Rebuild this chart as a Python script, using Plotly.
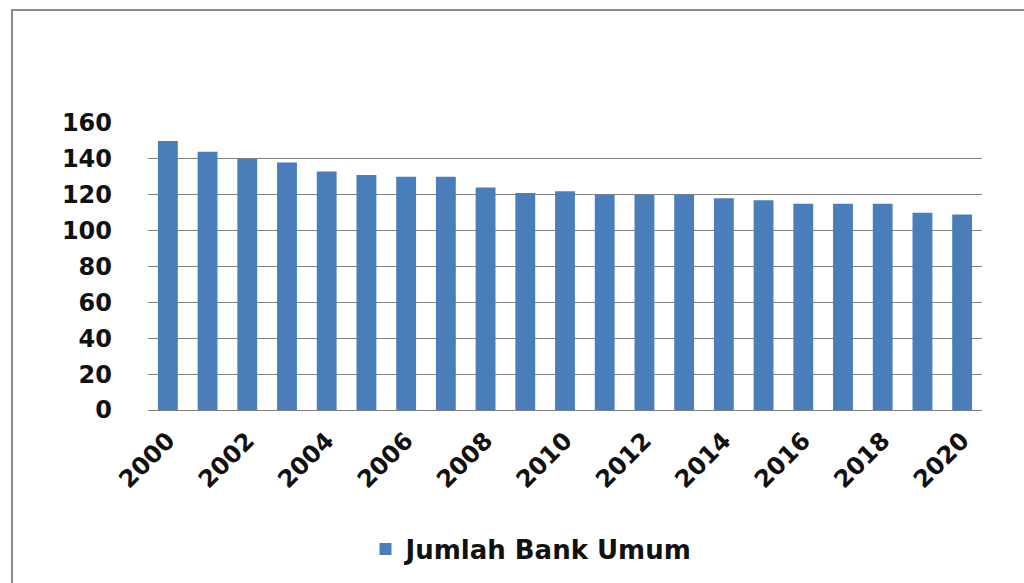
import plotly.graph_objects as go

years = list(range(2000, 2021))
bank_counts = [150, 144, 140, 138, 133, 131, 130, 130, 124, 121, 122,
               120, 120, 120, 118, 117, 115, 115, 115, 110, 109]
x_tick_years = list(range(2000, 2021, 2))
y_tick_values = [0, 20, 40, 60, 80, 100, 120, 140, 160]
series_name = "Jumlah Bank Umum"

W, H = 1024, 583
L, R, T, B = 148, 42, 123, 173
pw, ph = W - L - R, H - T - B

def px_x(p):
    return (p - L) / pw

def px_y(p):
    return (H - B - p) / ph

font_main = "DejaVu Sans"

fig = go.Figure()
fig.add_trace(go.Bar(
    x=years, y=bank_counts, name=series_name,
    marker=dict(color="#4A7EBB", line=dict(width=0)),
    showlegend=True,
))

fig.update_layout(
    width=W, height=H,
    margin=dict(l=L, r=R, t=T, b=B, autoexpand=False),
    paper_bgcolor="white", plot_bgcolor="white",
    bargap=0.5,
    showlegend=True,
    legend=dict(
        orientation="h", x=px_x(532), xanchor="center",
        y=px_y(549), yanchor="middle",
        font=dict(family=font_main, size=26, color="#111111", weight="bold"),
        itemwidth=30,
    ),
    xaxis=dict(
        range=[1999.5, 2020.5], tickmode="array", tickvals=x_tick_years,
        ticktext=[str(v) for v in x_tick_years],
        tickangle=-45, showgrid=False, zeroline=False,
        showline=False, ticks="outside", ticklen=6, tickcolor="rgba(0,0,0,0)",
        tickfont=dict(family=font_main, size=24, color="#111111", weight="bold"),
        fixedrange=True,
    ),
    yaxis=dict(
        range=[0, 160], tickmode="array", tickvals=y_tick_values,
        showgrid=True, gridcolor="#808080", gridwidth=1,
        zeroline=True, zerolinecolor="#808080", zerolinewidth=1,
        showline=False, ticks="", ticklabelstandoff=35,
        tickfont=dict(family=font_main, size=24, color="#111111", weight="bold"),
        fixedrange=True,
    ),
    shapes=[dict(
        type="rect", xref="paper", yref="paper",
        x0=px_x(12), x1=px_x(1040), y0=px_y(600), y1=px_y(10),
        line=dict(color="#8C8C8C", width=2), fillcolor="rgba(0,0,0,0)",
        layer="below",
    )],
)

fig.write_html("out.html")
